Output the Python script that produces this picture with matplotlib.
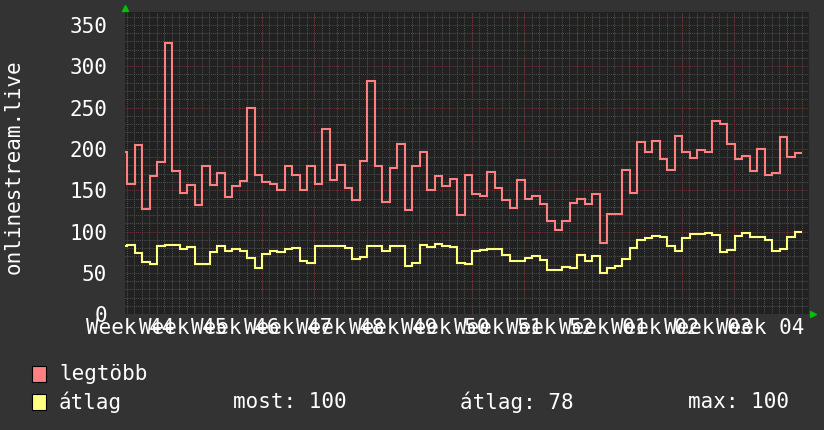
import matplotlib
matplotlib.use("Agg")
import matplotlib.pyplot as plt
from matplotlib.patches import Rectangle
import numpy as np

# daily values, first one is a partial step at the left edge
legtobb = [196,
           157, 205, 127, 167, 184, 328, 173, 147, 156, 132, 179, 156, 171, 142, 155, 161, 249, 169, 160, 157, 150, 179, 168,
           150, 179, 158, 224, 162, 181, 153, 138, 185, 282, 179, 136, 177, 206, 126, 179, 196, 150, 167, 155, 164, 120, 169,
           145, 143, 172, 153, 138, 129, 162, 140, 143, 133, 113, 102, 113, 134, 139, 133, 146, 86, 121, 121, 175, 147,
           208, 196, 210, 188, 174, 215, 196, 189, 199, 196, 234, 230, 206, 188, 192, 173, 200, 168, 171, 214, 190, 195]
atlag = [83,
         84, 74, 63, 61, 82, 84, 84, 79, 81, 61, 61, 75, 82, 77, 79, 77, 68, 56, 73, 77, 75, 79, 80,
         64, 62, 82, 83, 83, 82, 80, 67, 69, 83, 82, 77, 82, 82, 58, 62, 84, 81, 85, 82, 81, 62, 61,
         77, 78, 79, 79, 72, 64, 65, 68, 71, 66, 54, 54, 57, 56, 72, 65, 71, 50, 56, 59, 67, 80,
         90, 92, 95, 93, 83, 77, 92, 97, 97, 98, 96, 75, 78, 95, 98, 94, 94, 90, 77, 79, 94, 100]
week_labels = ["Week 44", "Week 45", "Week 46", "Week 47", "Week 48", "Week 49", "Week 50",
               "Week 51", "Week 52", "Week 01", "Week 02", "Week 03", "Week 04"]
atlag_avg = 78

W, H = 824, 430
bg = "#333333"
plot_bg = "#212121"
red = "#ff8080"
yellow = "#ffff80"
font = "DejaVu Sans Mono"
fs = 15

plt.rcParams["font.family"] = font

fig = plt.figure(figsize=(W / 100, H / 100), dpi=100, facecolor=bg)
x0, x1, y_top, y_bot = 125, 809, 12, 314.3
ax = fig.add_axes([x0 / W, 1 - y_bot / H, (x1 - x0) / W, (y_bot - y_top) / H])
ax.set_facecolor(plot_bg)

days = (x1 - x0) / 7.5
ymax = (y_bot - y_top) / 0.827
ax.set_xlim(0, days)
ax.set_ylim(0, ymax)

# step edges: partial first step, then one step per day
edges = np.concatenate([[0], 0.31 + np.arange(len(legtobb))])

# grid
grid_off = 4.23
ax.set_xticks(np.arange(grid_off - 4, days, 1), minor=True)
ax.set_yticks(np.arange(0, ymax, 10), minor=True)
ax.grid(which="minor", color="#4e4e4e", linestyle=(0, (1, 1)), linewidth=0.75)
week_lines = np.arange(grid_off, days, 7)
ax.vlines(week_lines, 0, ymax, color="#6e3434", linestyle=(0, (1, 1)), linewidth=0.75, zorder=1)
ax.hlines(np.arange(0, ymax, 50), 0, days, color="#6e3434", linestyle=(0, (1, 1)), linewidth=0.75, zorder=1)
ax.set_axisbelow(True)

ax.stairs(legtobb, edges, baseline=None, color=red, linewidth=1.5, zorder=3)
ax.stairs(atlag, edges, baseline=None, color=yellow, linewidth=1.5, zorder=3)

ax.set_xticks(grid_off - 3.5 + 7 * np.arange(len(week_labels)))
ax.set_xticklabels(week_labels)
ax.set_yticks(np.arange(0, 351, 50))
ax.tick_params(which="both", length=0, colors="white", labelsize=fs)
ax.tick_params(axis="x", pad=3)
ax.tick_params(axis="y", pad=13)
for s in ax.spines.values():
    s.set_visible(False)

# green arrows
ax.plot([0], [1 + 4 / (y_bot - y_top)], marker="^", ms=4, color="#00c000",
        transform=ax.transAxes, clip_on=False)
ax.plot([1 + 4 / (x1 - x0)], [0], marker=">", ms=4, color="#00c000",
        transform=ax.transAxes, clip_on=False)

fig.text(14 / W, 1 - 167 / H, "onlinestream.live", rotation=90, ha="center", va="center",
         color="white", fontsize=fs)

# legend
fig.add_artist(Rectangle((32 / W, 1 - 382 / H), 14 / W, 16 / H, transform=fig.transFigure,
                         facecolor=red, edgecolor="black", linewidth=0.8))
fig.add_artist(Rectangle((32 / W, 1 - 410 / H), 14 / W, 16 / H, transform=fig.transFigure,
                         facecolor=yellow, edgecolor="black", linewidth=0.8))
fig.text(59 / W, 1 - 374 / H, "legtöbb", color="white", fontsize=fs, va="center")
fig.text(59 / W, 1 - 402 / H, "átlag", color="white", fontsize=fs, va="center")
fig.text(233 / W, 1 - 402 / H, f"most: {atlag[-1]}", color="white", fontsize=fs, va="center")
fig.text(460 / W, 1 - 402 / H, f"átlag: {atlag_avg}", color="white", fontsize=fs, va="center")
fig.text(688 / W, 1 - 402 / H, f"max: {max(atlag)}", color="white", fontsize=fs, va="center")

fig.savefig("out.png", dpi=100, facecolor=bg)
